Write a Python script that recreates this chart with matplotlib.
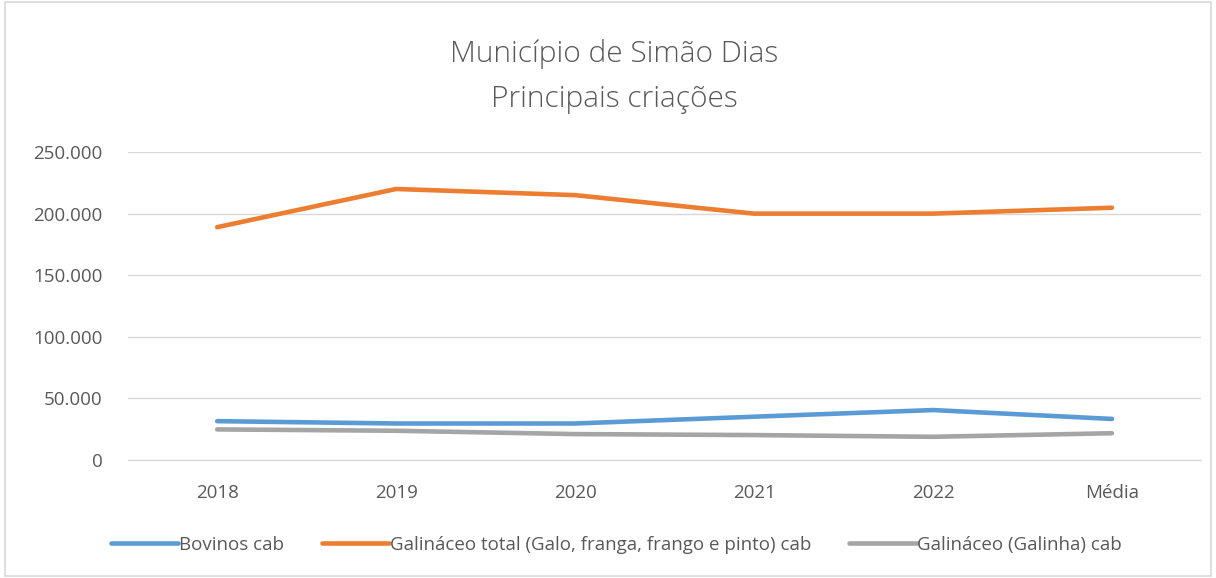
import matplotlib.pyplot as plt
from matplotlib.ticker import FuncFormatter
from matplotlib.patches import Rectangle

categorias = ['2018', '2019', '2020', '2021', '2022', 'Média']
bovinos = [31600, 29700, 29700, 35200, 40600, 33400]
galinaceo_total = [189000, 220000, 215000, 200000, 200000, 204800]
galinha = [24900, 23800, 21100, 20300, 18900, 21800]

plt.rcParams['font.family'] = ['Open Sans', 'DejaVu Sans']
cinza = '#595959'

fig = plt.figure(figsize=(12.16, 5.78), dpi=100)
ax = fig.add_axes([0.105, 0.204, 0.883, 0.533])

x = range(len(categorias))
ax.plot(x, bovinos, color='#5B9BD5', lw=3.3, label='Bovinos cab', solid_capstyle='round')
ax.plot(x, galinaceo_total, color='#ED7D31', lw=3.3,
        label='Galináceo total (Galo, franga, frango e pinto) cab', solid_capstyle='round')
ax.plot(x, galinha, color='#A5A5A5', lw=3.3, label='Galináceo (Galinha) cab', solid_capstyle='round')

ax.set_xlim(-0.5, len(categorias) - 0.5)
ax.set_ylim(0, 250000)
ax.set_yticks(range(0, 250001, 50000))
ax.yaxis.set_major_formatter(FuncFormatter(lambda v, p: f'{int(v):,}'.replace(',', '.')))
ax.set_xticks(list(x))
ax.set_xticklabels(categorias)
ax.grid(axis='y', color='#D9D9D9', lw=1)
ax.set_axisbelow(True)
for s in ['top', 'right', 'left']:
    ax.spines[s].set_visible(False)
ax.spines['bottom'].set_color('#D9D9D9')
ax.tick_params(axis='both', length=0, colors=cinza, labelsize=13.5)
ax.tick_params(axis='x', pad=17)
ax.tick_params(axis='y', pad=18)

fig.text(0.505, 0.907, 'Município de Simão Dias', ha='center', va='center', fontsize=21.5, color=cinza, fontweight='light')
fig.text(0.505, 0.828, 'Principais criações', ha='center', va='center', fontsize=21.5, color=cinza, fontweight='light')

ax.legend(loc='center', bbox_to_anchor=(0.507, 0.057), bbox_transform=fig.transFigure, ncol=3,
          frameon=False, fontsize=13.5, labelcolor=cinza, handlelength=3.6, handletextpad=0.05,
          columnspacing=2.0)

fig.patches.append(Rectangle((0.004, 0.004), 0.992, 0.992, transform=fig.transFigure,
                             fill=False, edgecolor='#D9D9D9', lw=1.2))

fig.savefig('out.png', dpi=100)
